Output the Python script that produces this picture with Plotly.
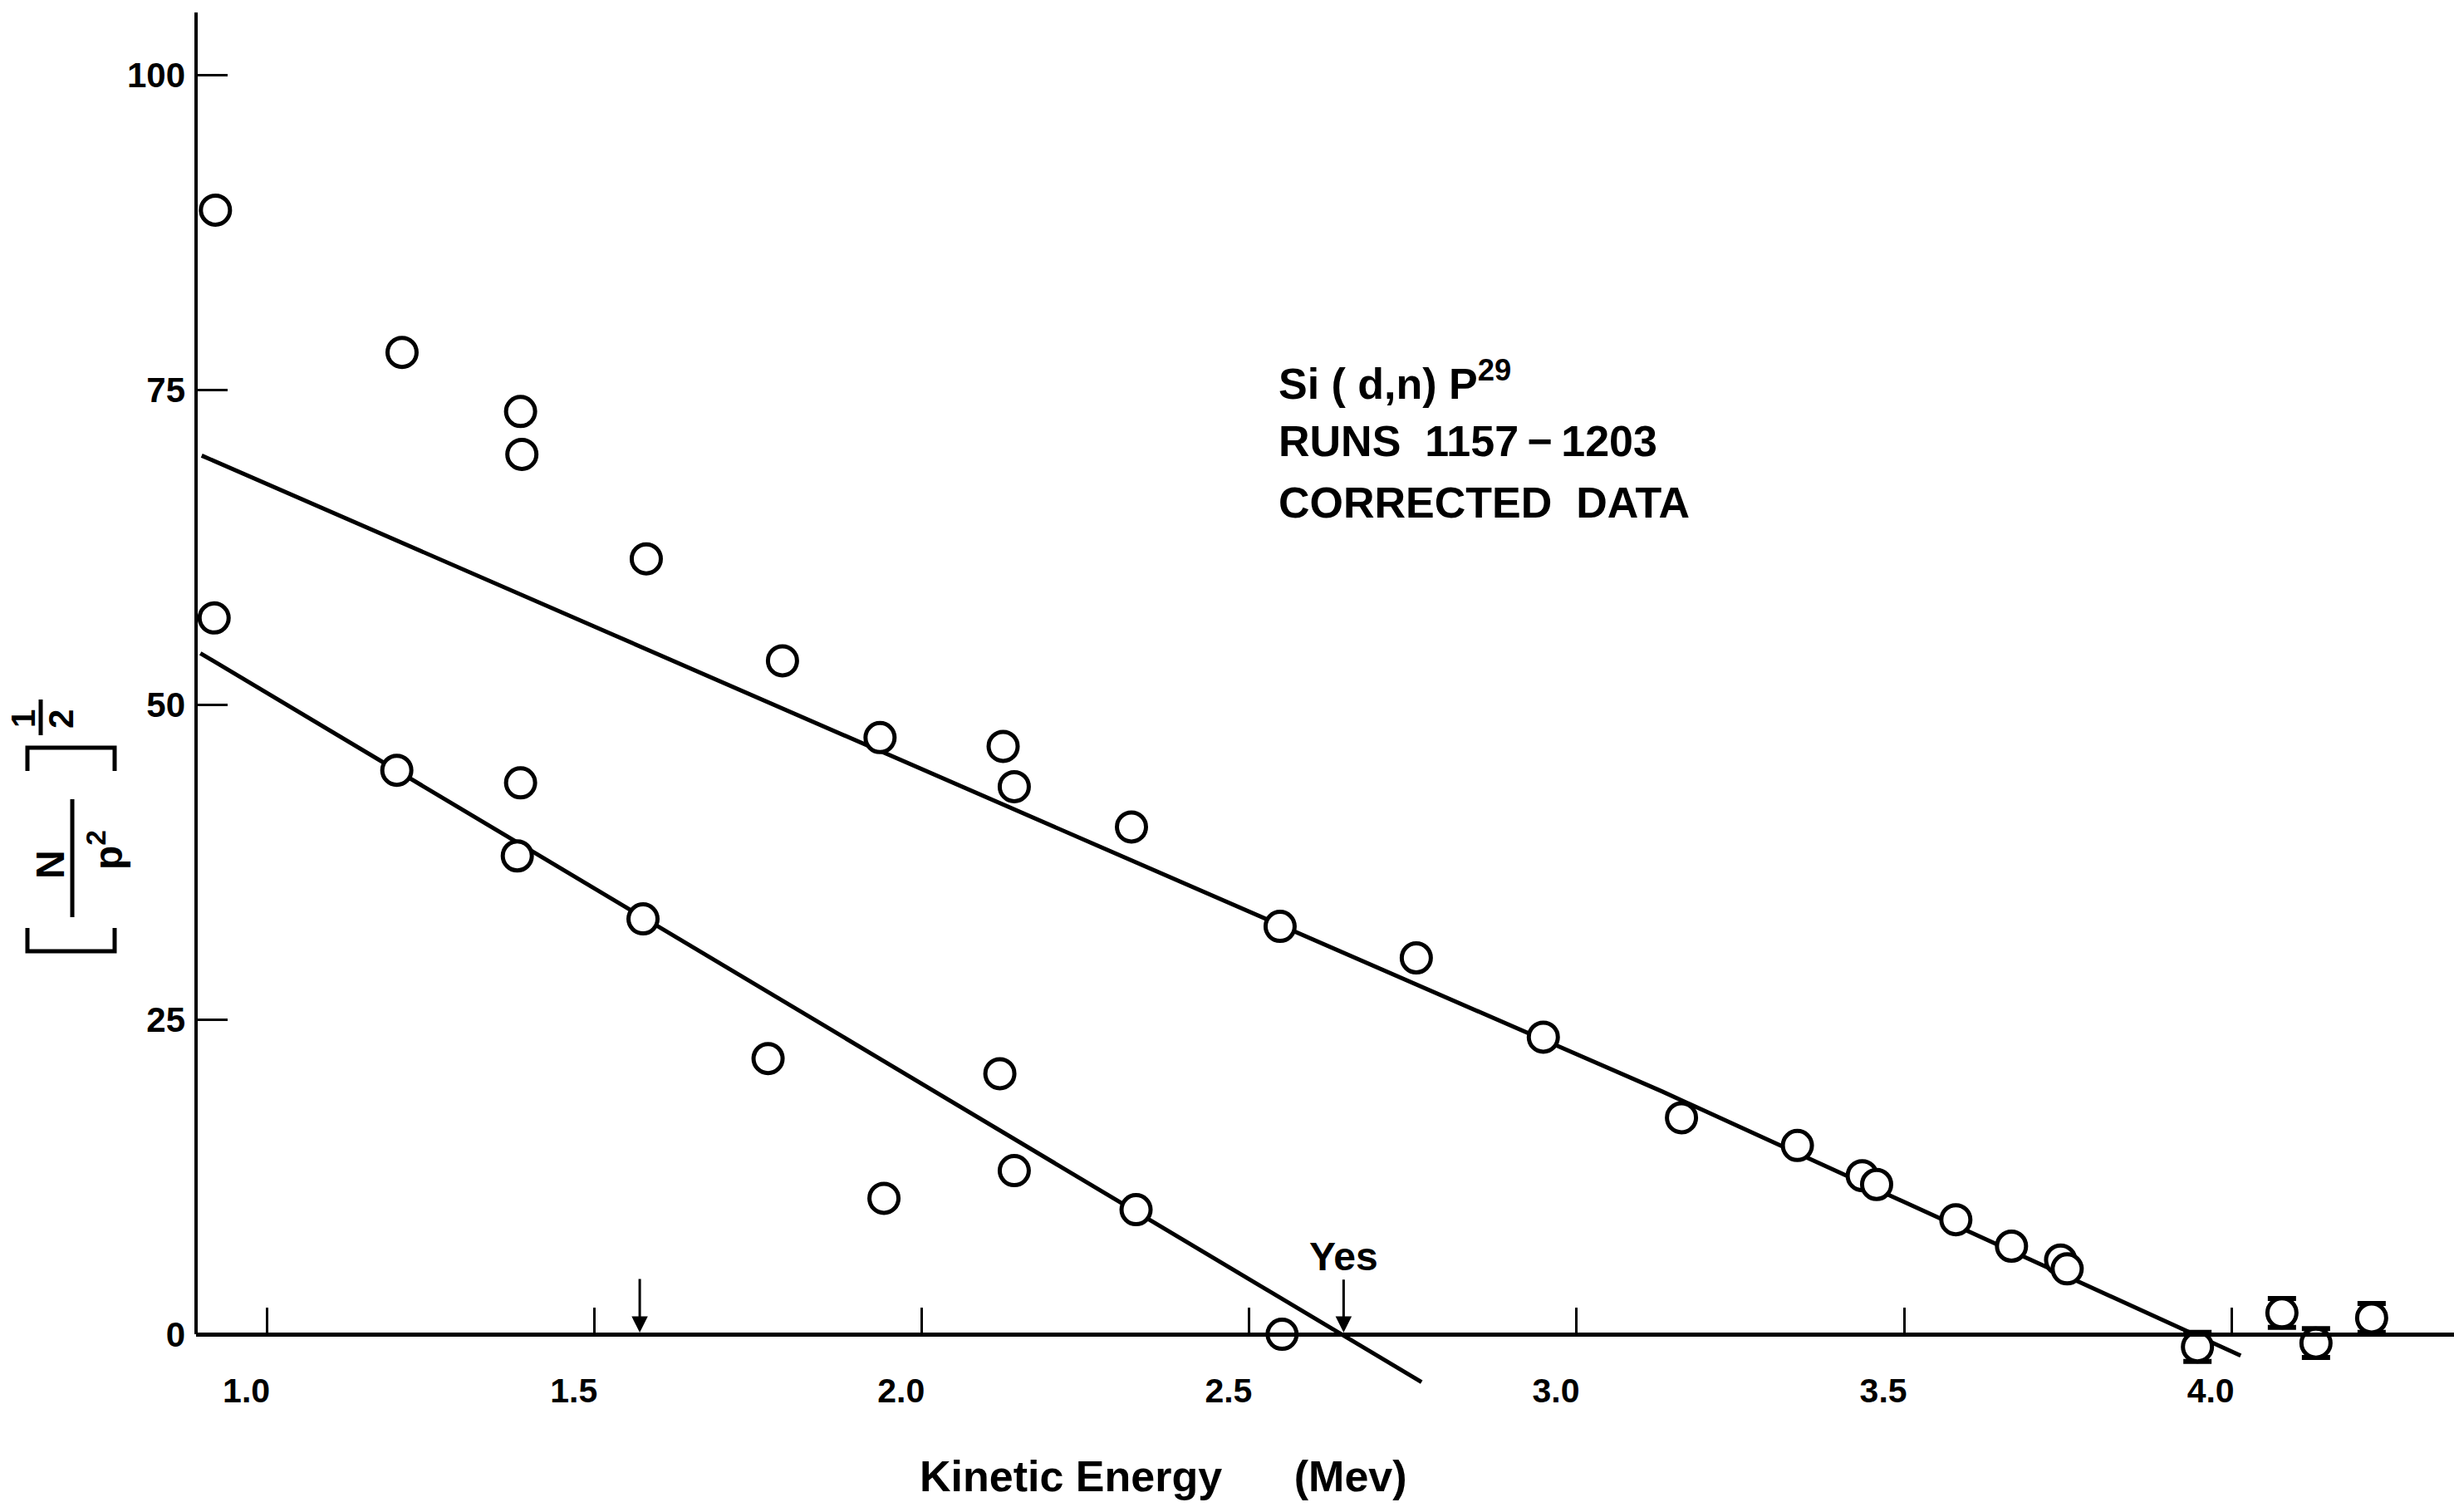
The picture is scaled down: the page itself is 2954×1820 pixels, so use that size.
import plotly.graph_objects as go

# ---------------- data ----------------
# Kinetic energy (MeV) and [N/p^2]^(1/2) for the plain circles
energy_mev = [0.921, 0.919, 1.206, 1.198, 1.387, 1.389, 1.387, 1.382,
              1.579, 1.574, 1.787, 1.765, 1.936, 1.942, 2.124, 2.141,
              2.119, 2.141, 2.320, 2.327, 2.550, 2.547, 2.755, 2.949,
              3.160, 3.337, 3.436, 3.458, 3.579, 3.664, 3.739, 3.749]
n_over_p2 = [89.3, 56.9, 78.0, 44.8, 73.3, 69.9, 43.8, 38.0,
             61.6, 33.0, 53.5, 21.9, 47.4, 10.8, 46.7, 43.5,
             20.7, 13.0, 40.3, 9.9, 0.0, 32.4, 29.9, 23.6,
             17.2, 15.0, 12.6, 11.9, 9.1, 7.0, 5.9, 5.2]

# points beyond the end point, drawn with error bars
energy_err_mev = [3.948, 4.077, 4.129, 4.214]
n_over_p2_err = [-1.0, 1.7, -0.7, 1.3]
err_size = [1.15, 1.15, 1.15, 1.15]

# the two straight-line fits
fit_upper_energy = [0.900, 3.130, 4.014]
fit_upper_value = [69.8, 19.3, -1.7]
fit_lower_energy = [0.898, 2.763]
fit_lower_value = [54.1, -3.8]

# marked end points (arrows)
arrow_energy = [1.569, 2.644]
arrow_label = ["", "Yes"]

x_ticks = [1.0, 1.5, 2.0, 2.5, 3.0, 3.5, 4.0]
x_tick_labels = ["1.0", "1.5", "2.0", "2.5", "3.0", "3.5", "4.0"]
y_ticks = [0, 25, 50, 75, 100]
y_tick_labels = ["0", "25", "50", "75", "100"]

X_RANGE = [0.8914, 4.3398]
Y_RANGE = [-6, 105]

# ---------------- layout geometry ----------------
W, H = 2954, 1820
ML, MR, MT, MB = 236, 0, 15, 123
PW, PH = W - ML - MR, H - MT - MB


def px(x):
    return (x - ML) / PW


def py(y):
    return (H - MB - y) / PH


FONT = "Liberation Sans, Arial, Helvetica, sans-serif"
BLACK = "black"

fig = go.Figure()

fig.add_trace(go.Scatter(x=fit_upper_energy, y=fit_upper_value, mode="lines",
                         line=dict(color=BLACK, width=5), showlegend=False,
                         hoverinfo="skip"))
fig.add_trace(go.Scatter(x=fit_lower_energy, y=fit_lower_value, mode="lines",
                         line=dict(color=BLACK, width=5), showlegend=False,
                         hoverinfo="skip"))

fig.add_trace(go.Scatter(
    x=energy_err_mev, y=n_over_p2_err, mode="markers",
    marker=dict(symbol="circle", size=35, color="white",
                line=dict(color=BLACK, width=5)),
    error_y=dict(type="data", array=err_size, visible=True, color=BLACK,
                 thickness=6, width=17),
    showlegend=False, cliponaxis=False))

fig.add_trace(go.Scatter(
    x=energy_mev, y=n_over_p2, mode="markers",
    marker=dict(symbol="circle", size=35, color="white",
                line=dict(color=BLACK, width=5)),
    showlegend=False, cliponaxis=False))

zero_pos = (0 - Y_RANGE[0]) / (Y_RANGE[1] - Y_RANGE[0])

fig.update_layout(
    width=W, height=H,
    margin=dict(l=ML, r=MR, t=MT, b=MB, pad=0),
    paper_bgcolor="white", plot_bgcolor="white",
    font=dict(family=FONT, color=BLACK),
    xaxis=dict(range=X_RANGE, anchor="free", position=zero_pos,
               showline=True, linecolor=BLACK, linewidth=5,
               showgrid=False, zeroline=False,
               ticks="inside", ticklen=30, tickwidth=3, tickcolor=BLACK,
               tickvals=x_ticks, ticktext=x_tick_labels,
               tickfont=dict(family=FONT, size=41, color=BLACK, weight="bold"),
               ticklabelstandoff=30, ticklabelshift=-25),
    yaxis=dict(range=Y_RANGE, showline=False, showgrid=False, zeroline=False,
               ticks="inside", ticklen=38, tickwidth=3, tickcolor=BLACK,
               tickvals=y_ticks, ticktext=y_tick_labels,
               tickfont=dict(family=FONT, size=42, color=BLACK, weight="bold"),
               ticklabelstandoff=12),
)

# y axis line from 0 up to the top
fig.add_shape(type="line", xref="paper", yref="y", x0=0, x1=0, y0=0, y1=Y_RANGE[1],
              line=dict(color=BLACK, width=4))

# arrows marking the end points
for e, lab in zip(arrow_energy, arrow_label):
    fig.add_annotation(x=e, y=0, xref="x", yref="y", axref="x", ayref="y",
                       ax=e, ay=6.2 if lab else 4.5, text=lab, showarrow=True,
                       arrowhead=2, arrowsize=1.3, arrowwidth=3, arrowcolor=BLACK,
                       standoff=2,
                       font=dict(family=FONT, size=48, color=BLACK, weight="bold"))

# reaction label block
block = ["Si ( d,n) P<sup>29</sup>", "RUNS  1157\u2009\u2212\u20091203", "CORRECTED  DATA"]
block_y = [458, 531, 605]
for t, yy in zip(block, block_y):
    fig.add_annotation(x=px(1537), y=py(yy), xref="paper", yref="paper",
                       text=t, showarrow=False, xanchor="left", yanchor="middle",
                       font=dict(family=FONT, size=52, color=BLACK, weight="bold"))

# x axis title
fig.add_annotation(x=px(1105), y=py(1777), xref="paper", yref="paper",
                   text="Kinetic Energy" + "\u00a0" * 6 + "(Mev)",
                   showarrow=False, xanchor="left", yanchor="middle",
                   font=dict(family=FONT, size=52, color=BLACK, weight="bold"))

# y axis title  [ N / p^2 ]^(1/2), written vertically
TITLE_FONT = dict(family=FONT, size=48, color=BLACK, weight="bold")
fig.add_annotation(x=px(60), y=py(1040), xref="paper", yref="paper", text="N",
                   textangle=-90, showarrow=False, xanchor="center", yanchor="middle",
                   font=TITLE_FONT)
fig.add_annotation(x=px(127), y=py(1023), xref="paper", yref="paper",
                   text="p<sup>2</sup>", textangle=-90, showarrow=False,
                   xanchor="center", yanchor="middle", font=TITLE_FONT)
fig.add_shape(type="line", xref="paper", yref="paper",
              x0=px(87), x1=px(87), y0=py(962), y1=py(1104),
              line=dict(color=BLACK, width=5))
# exponent 1/2
fig.add_annotation(x=px(28), y=py(865), xref="paper", yref="paper", text="1",
                   textangle=-90, showarrow=False, xanchor="center", yanchor="middle",
                   font=dict(family=FONT, size=40, color=BLACK, weight="bold"))
fig.add_annotation(x=px(73), y=py(866), xref="paper", yref="paper", text="2",
                   textangle=-90, showarrow=False, xanchor="center", yanchor="middle",
                   font=dict(family=FONT, size=42, color=BLACK, weight="bold"))
fig.add_shape(type="line", xref="paper", yref="paper",
              x0=px(49), x1=px(49), y0=py(842), y1=py(885),
              line=dict(color=BLACK, width=5))
# brackets
x_a, x_b = px(33), px(138)
fig.add_shape(type="path", xref="paper", yref="paper",
              path=f"M {x_a},{py(928)} L {x_a},{py(900)} L {x_b},{py(900)} L {x_b},{py(928)}",
              line=dict(color=BLACK, width=5))
fig.add_shape(type="path", xref="paper", yref="paper",
              path=f"M {x_a},{py(1117)} L {x_a},{py(1145)} L {x_b},{py(1145)} L {x_b},{py(1117)}",
              line=dict(color=BLACK, width=5))

fig.write_html("out.html", config={"displayModeBar": False},
               post_script="document.body.style.margin='0';document.body.style.overflow='hidden';")
